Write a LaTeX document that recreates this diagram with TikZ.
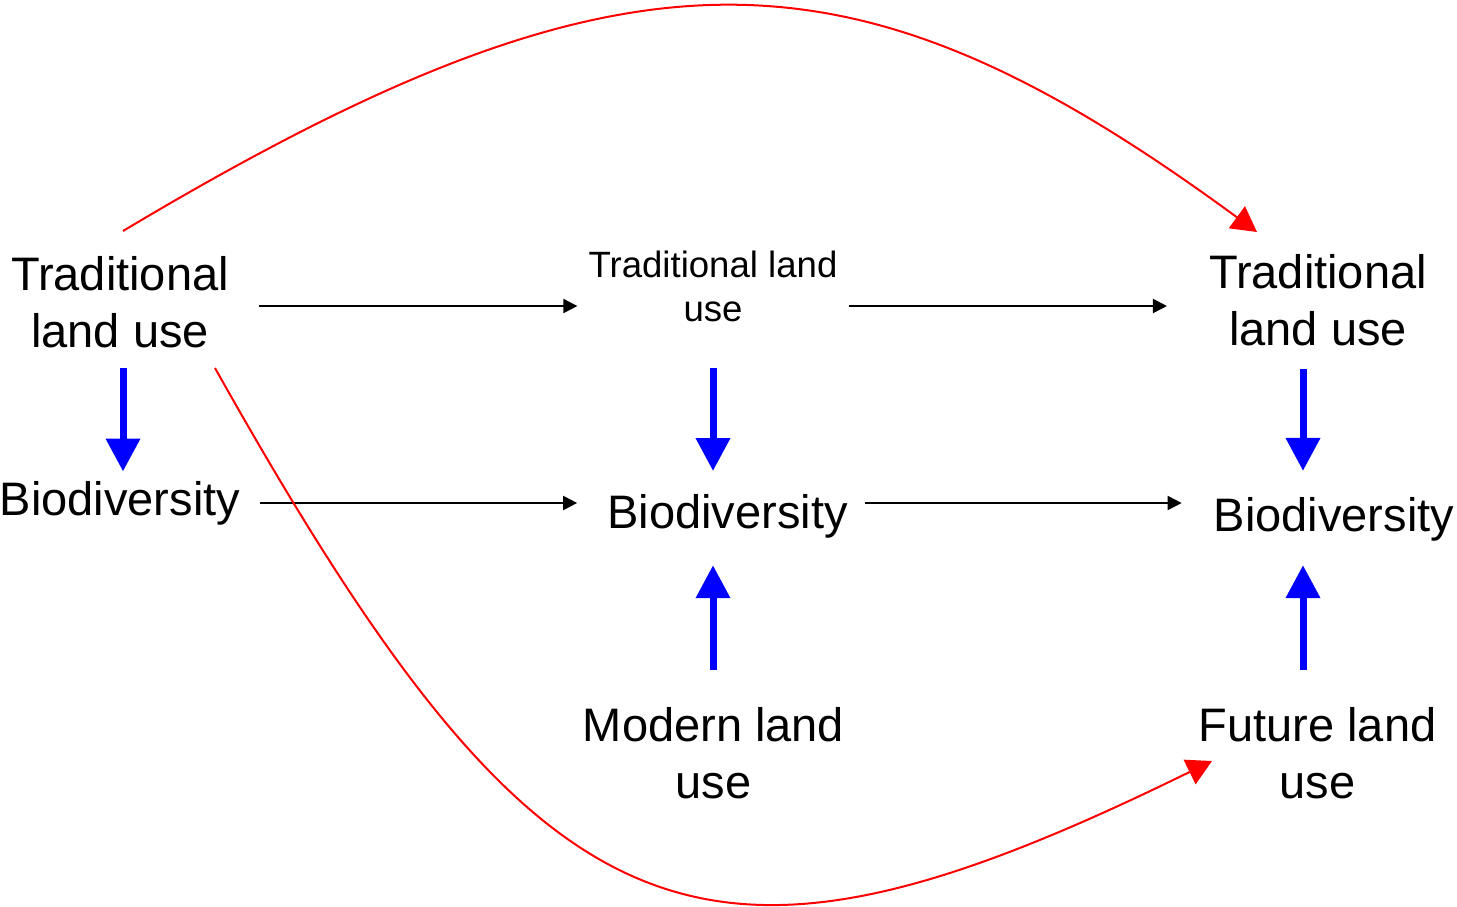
\documentclass[tikz,border=0pt]{standalone}
\usepackage{fontspec}
\setmainfont{Liberation Sans}
\usetikzlibrary{arrows.meta}
\begin{document}
\begin{tikzpicture}[x=1pt,y=-1pt,
  big/.style={inner sep=0pt, align=center, font=\fontsize{47}{57}\selectfont},
  small/.style={inner sep=0pt, align=center, font=\fontsize{36.6}{44.3}\selectfont},
  flow/.style={line width=2pt, -{Triangle[length=14pt,width=14pt]}},
  effect/.style={blue, line width=7pt, -{Triangle[length=33pt,width=33pt]}},
  legacy/.style={red, line width=2pt, -{Triangle[length=25pt,width=27pt]}}]
\useasboundingbox (0,0) rectangle (1457,906);

% left column: the past
\node[big]   (tl) at (120,302.3)  {Traditional\\land use};
\node[big]   (bl) at (120,503.6) {Biodiversity};
% middle column: the present
\node[small] (tm) at (713,286.5)  {Traditional land\\use};
\node[big]   (bm) at (727.5,516.1) {Biodiversity};
\node[big]   (mm) at (713.5,752.7) {Modern land\\use};
% right column: the future
\node[big]   (tr) at (1318,300)   {Traditional\\land use};
\node[big]   (br) at (1334,519)   {Biodiversity};
\node[big]   (fr) at (1317.5,752.7) {Future land\\use};

% rows and columns the straight arrows follow
\coordinate (r1) at (0,306);
\coordinate (r2) at (0,503);
\coordinate (c1) at (123,0);
\coordinate (c2) at (713,0);
\coordinate (c3) at (1303,0);

% ends of the long curved links
\coordinate (ts) at (123,231);
\coordinate (te) at (1257,232);
\coordinate (bs) at (215,368);
\coordinate (be) at (1212,761);

% change over time
\draw[flow, shorten <=30pt, shorten >=11pt] (tl.east |- r1) -- (tm.west |- r1);
\draw[flow, shorten <=11pt, shorten >=42pt] (tm.east |- r1) -- (tr.west |- r1);
\draw[flow, shorten <=19.5pt, shorten >=30pt] (bl.east |- r2) -- (bm.west |- r2);
\draw[flow, shorten <=17pt, shorten >=32pt] (bm.east |- r2) -- (br.west |- r2);

% land use drives biodiversity
\draw[effect, shorten <=20pt, shorten >=10pt] (c1 |- tl.south) -- (c1 |- bl.north);
\draw[effect, shorten <=46pt, shorten >=23pt] (c2 |- tm.south) -- (c2 |- bm.north);
\draw[effect, shorten <=23pt, shorten >=26pt] (c3 |- tr.south) -- (c3 |- br.north);
\draw[effect, shorten <=37pt, shorten >=27pt] (c2 |- mm.north) -- (c2 |- bm.south);
\draw[effect, shorten <=37pt, shorten >=24pt] (c3 |- fr.north) -- (c3 |- br.south);

% long-range links
\draw[legacy] (ts) .. controls (630,-72) and (852,-65) .. (te);
\draw[legacy] (bs) .. controls (545,956) and (700,1012) .. (be);
\end{tikzpicture}
\end{document}
